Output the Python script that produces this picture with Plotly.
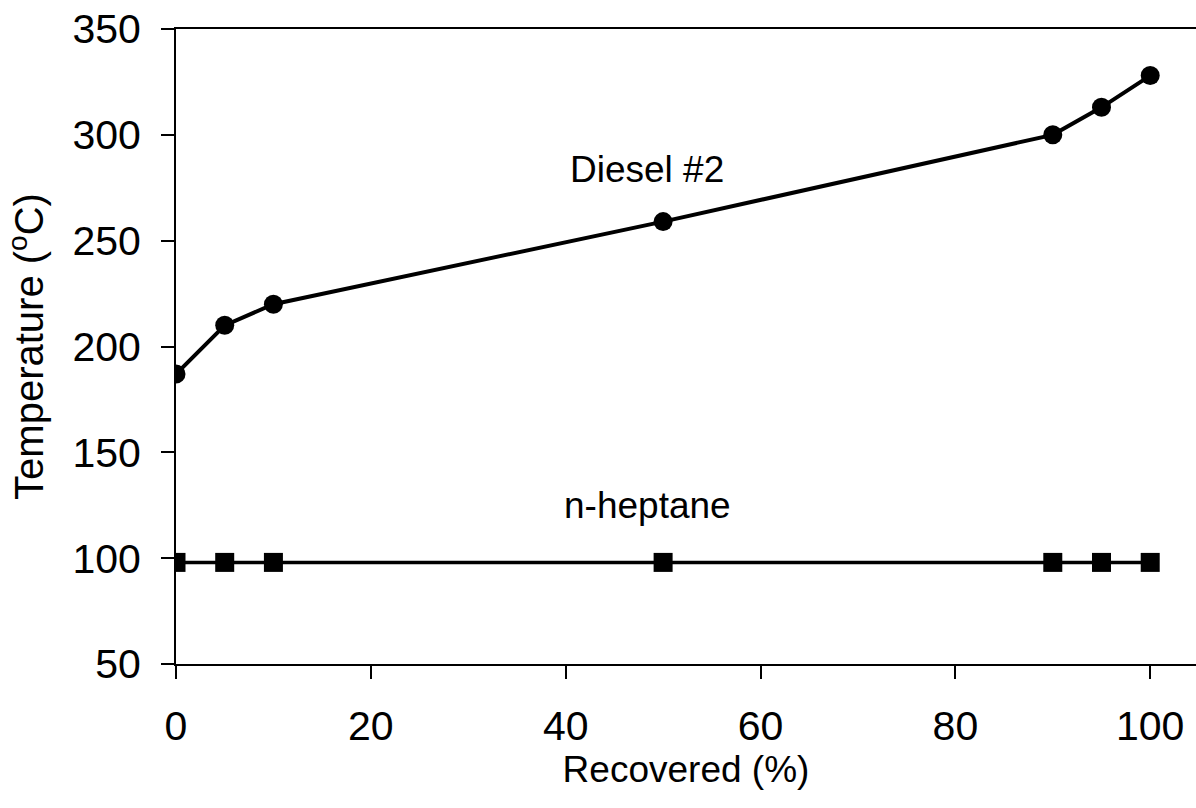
import plotly.graph_objects as go

# Distillation curves: temperature vs. volume recovered
recovered_pct = [0, 5, 10, 50, 90, 95, 100]
diesel_temp_c = [187, 210, 220, 259, 300, 313, 328]
heptane_temp_c = [98, 98, 98, 98, 98, 98, 98]

x_ticks = [0, 20, 40, 60, 80, 100]
y_ticks = [50, 100, 150, 200, 250, 300, 350]

tick_font = dict(family="Liberation Sans, Arial, sans-serif", size=41, color="black")
text_font = dict(family="Liberation Sans, Arial, sans-serif", size=37, color="black")
ytitle_font = dict(family="Liberation Sans, Arial, sans-serif", size=40, color="black")

fig = go.Figure()

fig.add_trace(go.Scatter(
    x=recovered_pct, y=diesel_temp_c, mode="lines+markers",
    line=dict(color="black", width=4),
    marker=dict(symbol="circle", size=19, color="black"),
    name="Diesel #2", showlegend=False,
))
fig.add_trace(go.Scatter(
    x=recovered_pct, y=heptane_temp_c, mode="lines+markers",
    line=dict(color="black", width=3.5),
    marker=dict(symbol="square", size=19, color="black"),
    name="n-heptane", showlegend=False,
))

fig.add_annotation(x=48.3, y=283.5, text="Diesel #2", showarrow=False,
                   font=text_font, xanchor="center", yanchor="middle")
fig.add_annotation(x=48.4, y=125, text="n-heptane", showarrow=False,
                   font=text_font, xanchor="center", yanchor="middle")

fig.update_layout(
    width=1196, height=808,
    margin=dict(l=176, r=0, t=29, b=144, pad=0),
    paper_bgcolor="white", plot_bgcolor="white",
    xaxis=dict(
        range=[0, 104.7], tickvals=x_ticks, ticktext=[str(v) for v in x_ticks],
        showgrid=False, zeroline=False,
        showline=True, linecolor="black", linewidth=2, mirror=True,
        ticks="outside", ticklen=13, tickwidth=2, tickcolor="black",
        tickfont=tick_font, ticklabelstandoff=12,
        title=dict(text="Recovered (%)", font=text_font, standoff=0),
    ),
    yaxis=dict(
        range=[50, 350], tickvals=y_ticks, ticktext=[str(v) for v in y_ticks],
        showgrid=False, zeroline=False,
        showline=True, linecolor="black", linewidth=2,
        ticks="outside", ticklen=13, tickwidth=2, tickcolor="black",
        tickfont=tick_font, ticklabelstandoff=12,
        title=dict(text="Temperature (<sup>o</sup>C)", font=ytitle_font, standoff=16),
    ),
)

fig.write_html("out.html")
